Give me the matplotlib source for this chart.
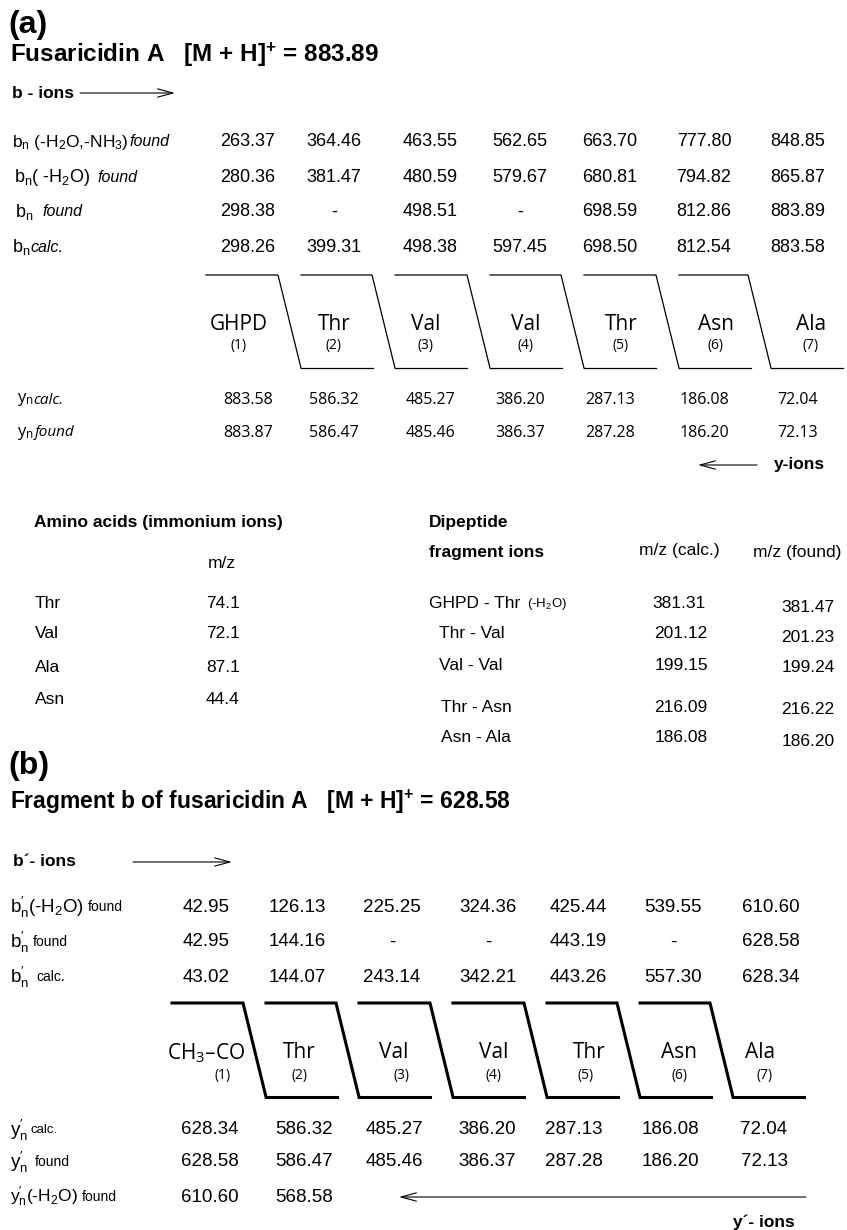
import matplotlib
matplotlib.use('Agg')
import matplotlib.pyplot as plt

plt.rcParams['font.family'] = ['Liberation Sans', 'DejaVu Sans']
plt.rcParams['mathtext.fontset'] = 'custom'
plt.rcParams['mathtext.rm'] = 'Liberation Sans'
plt.rcParams['mathtext.it'] = 'Liberation Sans:italic'
plt.rcParams['mathtext.bf'] = 'Liberation Sans:bold'

# ---- data, panel (a) ----
residues_a = ['GHPD', 'Thr', 'Val', 'Val', 'Thr', 'Asn', 'Ala']
b_loss_h2o_nh3 = [263.37, 364.46, 463.55, 562.65, 663.70, 777.80, 848.85]
b_loss_h2o = [280.36, 381.47, 480.59, 579.67, 680.81, 794.82, 865.87]
b_found = [298.38, None, 498.51, None, 698.59, 812.86, 883.89]
b_calc = [298.26, 399.31, 498.38, 597.45, 698.50, 812.54, 883.58]
y_calc = [883.58, 586.32, 485.27, 386.20, 287.13, 186.08, 72.04]
y_found = [883.87, 586.47, 485.46, 386.37, 287.28, 186.20, 72.13]

immonium_aa = ['Thr', 'Val', 'Ala', 'Asn']
immonium_mz = [74.1, 72.1, 87.1, 44.4]

dipeptides = ['GHPD - Thr', 'Thr - Val', 'Val - Val', 'Thr - Asn', 'Asn - Ala']
dipep_calc = [381.31, 201.12, 199.15, 216.09, 186.08]
dipep_found = [381.47, 201.23, 199.24, 216.22, 186.20]

# ---- data, panel (b) ----
residues_b = ['CH3-CO', 'Thr', 'Val', 'Val', 'Thr', 'Asn', 'Ala']
bp_loss_h2o = [42.95, 126.13, 225.25, 324.36, 425.44, 539.55, 610.60]
bp_found = [42.95, 144.16, None, None, 443.19, None, 628.58]
bp_calc = [43.02, 144.07, 243.14, 342.21, 443.26, 557.30, 628.34]
yp_calc = [628.34, 586.32, 485.27, 386.20, 287.13, 186.08, 72.04]
yp_found = [628.58, 586.47, 485.46, 386.37, 287.28, 186.20, 72.13]
yp_loss_h2o = [610.60, 568.58]

# ---- layout (pixels) ----
col_a = [248, 334, 430, 520, 610, 704, 798]
col_b = [206, 297, 392, 488, 578, 673, 771]
col_yb = [210, 304, 394, 487, 574, 670, 764]
box_a = [206, 301, 395, 490, 584, 679, 771]
box_b = [172, 266, 359, 453, 547, 640, 733]
lab_a = [239, 334, 426, 526, 621, 716, 811]
lab_b = [206, 299, 394, 494, 589, 679, 760]
num_b = [223, 299, 402, 494, 586, 679, 765]

OPEN = ['Open Sans', 'DejaVu Sans']


def fmt(v):
    return '-' if v is None else f'{v:.2f}'


fig = plt.figure(figsize=(8.47, 12.30), dpi=100)
ax = fig.add_axes([0, 0, 1, 1])
ax.set_xlim(0, 847)
ax.set_ylim(1230, 0)
ax.axis('off')
renderer = fig.canvas.get_renderer()


def txt(x, y, s, size=12, ha='center', **kw):
    return ax.text(x, y, s, fontsize=size, ha=ha, va='center', **kw)


def label(x, y, head, tail, size, tsize, gap, tstyle='italic', family=None):
    # row label: a head with subscripts, then a smaller tail word right after it
    kw = {} if family is None else {'family': family}
    t = txt(x, y, head, size, ha='left', **kw)
    bb = t.get_window_extent(renderer)
    x1 = ax.transData.inverted().transform((bb.x1, 0))[0]
    txt(x1 + gap, y, tail, tsize, ha='left', style=tstyle, **kw)


def arrow(x0, x1, y, lw=0.8):
    ax.annotate('', xy=(x1, y), xytext=(x0, y),
                arrowprops=dict(arrowstyle='->,head_length=1.1,head_width=0.3',
                                lw=lw, color='black', shrinkA=0, shrinkB=0))


def boxes(lefts, width, top, bot, lw):
    # top bar over residue i, slant down, bottom bar under residue i+1
    n = len(lefts)
    for i in range(n):
        if i < n - 1:
            r = lefts[i + 1] - 23
            ax.plot([lefts[i], r, lefts[i + 1]], [top, top, bot], color='black',
                    lw=lw, solid_joinstyle='miter')
        if i > 0:
            ax.plot([lefts[i], lefts[i] + width], [bot, bot], color='black', lw=lw)


# ================= panel (a) =================
txt(8, 25, '(a)', 23, ha='left', weight='bold')
txt(10, 55, r'Fusaricidin A   [M + H]$^{\mathregular{+}}$ = 883.89', 17.5, ha='left', weight='bold')
txt(12, 93, 'b - ions', 12.5, ha='left', weight='bold')
arrow(80, 175, 93)

rows_a = [b_loss_h2o_nh3, b_loss_h2o, b_found, b_calc]
rows_a_y = [142, 177, 212, 247]
label(12, 142, r'b$_\mathregular{n}$ (-H$_\mathregular{2}$O,-NH$_\mathregular{3}$)', 'found', 12.5, 11.5, 1)
label(14, 177, r'b$_\mathregular{n}$( -H$_\mathregular{2}$O)', 'found', 13, 11.5, 7)
label(15, 212, r'b$_\mathregular{n}$', 'found', 13, 11.5, 9)
label(12, 247, r'b$_\mathregular{n}$', 'calc.', 13, 11.5, 0)
for vals, yy in zip(rows_a, rows_a_y):
    for x, v in zip(col_a, vals):
        txt(x, yy, fmt(v), 13)

boxes(box_a, 72, 275, 368, 0.9)
for x, r, i in zip(lab_a, residues_a, range(1, 8)):
    txt(x, 325, r, 15, family=OPEN)
    txt(x, 346, f'({i})', 10, family=OPEN)

label(17, 400, r'y$_\mathregular{n}$', 'calc.', 12, 11, 0, family=OPEN)
label(17, 433, r'y$_\mathregular{n}$', 'found', 12, 11, 1, family=OPEN)
for vals, yy in zip([y_calc, y_found], [400, 433]):
    for x, v in zip(col_a, vals):
        txt(x, yy, fmt(v), 11.5, family=OPEN)

arrow(757, 698, 465)
txt(774, 465, 'y-ions', 12.5, ha='left', weight='bold')

# immonium ions
txt(34, 522, 'Amino acids (immonium ions)', 12.5, ha='left', weight='bold')
txt(222, 563, 'm/z', 12.5)
for yy, a, m in zip([603, 634, 668, 700], immonium_aa, immonium_mz):
    txt(35, yy, a, 12.5, ha='left')
    txt(223, yy, f'{m:.1f}', 12.5)

# dipeptide fragments
txt(429, 522, 'Dipeptide', 12.5, ha='left', weight='bold')
txt(429, 553, 'fragment ions', 12.5, ha='left', weight='bold')
txt(679, 551, 'm/z (calc.)', 12.5)
txt(797, 553, 'm/z (found)', 12.5)
dip_y = [604, 634, 665, 707, 738]
dip_x = [429, 439, 439, 441, 441]
for i, (d, c, f, yy, xx) in enumerate(zip(dipeptides, dipep_calc, dipep_found, dip_y, dip_x)):
    if i == 0:
        label(xx, yy, d, r'(-H$_\mathregular{2}$O)', 12.5, 9.5, 7, tstyle='normal')
    else:
        txt(xx, yy, d, 12.5, ha='left')
    txt(681 if i else 679, yy, f'{c:.2f}', 12.5)
    txt(808, yy + 3, f'{f:.2f}', 12.5)

# ================= panel (b) =================
txt(8, 766, '(b)', 23, ha='left', weight='bold')
txt(10, 802, r'Fragment b of fusaricidin A   [M + H]$^{\mathregular{+}}$ = 628.58', 16.5, ha='left', weight='bold')
txt(13, 862, 'b\u00b4- ions', 12.5, ha='left', weight='bold')
arrow(133, 232, 862)

bp = r'b$^{\prime}_{\mathregular{n}}$'
label(10, 907, bp + r'(-H$_\mathregular{2}$O)', 'found', 13.5, 10, 4, tstyle='normal')
label(10, 942, bp, 'found', 13.5, 10, 4, tstyle='normal')
label(10, 977, bp, 'calc.', 13.5, 10, 7, tstyle='normal')
for vals, yy in zip([bp_loss_h2o, bp_found, bp_calc], [907, 942, 977]):
    for x, v in zip(col_b, vals):
        txt(x, yy, fmt(v), 13.5)

boxes(box_b, 71, 1003, 1097, 2.2)
for x, xn, r, i in zip(lab_b, num_b, residues_b, range(1, 8)):
    if r == 'CH3-CO':
        r = 'CH$_\\mathregular{3}$\u2013CO'
    txt(x, 1053, r, 15, family=OPEN)
    txt(xn, 1076, f'({i})', 10, family=OPEN)

yp = r'y$^{\prime}_{\mathregular{n}}$'
label(10, 1130, yp, 'calc.', 13.5, 9.5, 2, tstyle='normal')
label(10, 1162, yp, 'found', 13.5, 10, 7, tstyle='normal')
label(10, 1197, yp + r'(-H$_\mathregular{2}$O)', 'found', 12.5, 10, 4, tstyle='normal')
for vals, yy in zip([yp_calc, yp_found, yp_loss_h2o], [1130, 1162, 1197]):
    for x, v in zip(col_yb, vals):
        txt(x, yy, fmt(v), 13.5)

arrow(806, 399, 1197)
txt(733, 1222, 'y\u00b4- ions', 12.5, ha='left', weight='bold')

fig.savefig('out.png', dpi=100)
